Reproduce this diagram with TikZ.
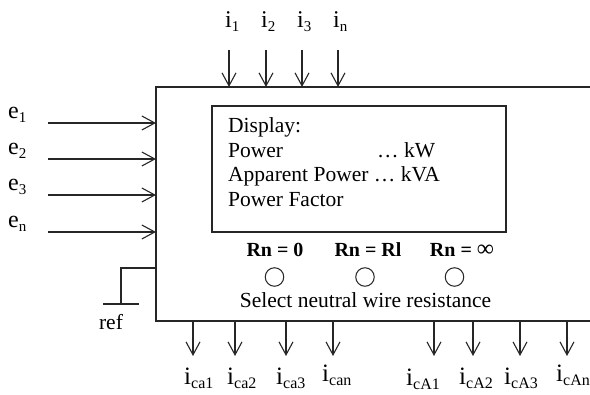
\documentclass[tikz,border=0pt]{standalone}
\usepackage{fontspec}
\setmainfont{Liberation Serif}
\usetikzlibrary{arrows.meta}

% subscript of a given size, lowered a little
\newcommand{\subtxt}[2]{\raisebox{-0.28ex}{\fontsize{#1}{#1}\selectfont #2}}

\begin{document}
\begin{tikzpicture}[x=1pt, y=-1pt,
    boxline/.style={line width=1.8pt, black!85},
    sig/.style={-{Straight Barb[length=13pt, width=14pt]}, line width=1.1pt, black!85},
    lblside/.style={inner sep=0pt, anchor=base west, font=\fontsize{24}{24}\selectfont},
    lblbot/.style={inner sep=0pt, anchor=base west, font=\fontsize{25}{25}\selectfont},
    disptxt/.style={inner sep=0pt, anchor=base west, font=\fontsize{21.5}{24}\selectfont},
    rnlbl/.style={inner sep=0pt, anchor=base, font=\fontsize{20}{20}\selectfont\bfseries},
    knob/.style={circle, draw, line width=1pt, black!85, minimum size=18.5pt, inner sep=0pt}]

  \useasboundingbox (0,0) rectangle (590,395);

  % ---- the meter box, open on the right ----
  \coordinate (boxNE) at (590,87);
  \coordinate (boxNW) at (156,87);
  \coordinate (boxSW) at (156,321);
  \coordinate (boxSE) at (590,321);
  \draw[boxline] (boxNE) -- (boxNW) -- (boxSW) -- (boxSE);

  % ---- display window ----
  \node[draw, line width=1.3pt, black!85, minimum width=294pt,
        minimum height=126pt, inner sep=0pt] (disp) at (359,169) {};
  \node[disptxt] (dispTitle) at (228,133) {Display:};
  \node[disptxt] (dispPow) at (228,158) {Power};
  \node[disptxt] (dispKW) at (377,158) {\ldots{} kW};
  \node[disptxt] (dispApp) at (228,182) {Apparent Power \ldots{} kVA};
  \node[disptxt] (dispPF) at (228,207) {Power Factor};

  % ---- voltage inputs on the left ----
  \node[lblside] (e1) at (8,119) {e\subtxt{15}{1}};
  \node[lblside] (e2) at (8,155) {e\subtxt{15}{2}};
  \node[lblside] (e3) at (8,191) {e\subtxt{15}{3}};
  \node[lblside] (en) at (8,228) {e\subtxt{15}{n}};
  \coordinate (e1s) at (48,123);  \coordinate (e1t) at (156,123);
  \coordinate (e2s) at (48,159);  \coordinate (e2t) at (156,159);
  \coordinate (e3s) at (48,195);  \coordinate (e3t) at (156,195);
  \coordinate (ens) at (48,232);  \coordinate (ent) at (156,232);
  \draw[sig] (e1s) -- (e1t);
  \draw[sig] (e2s) -- (e2t);
  \draw[sig] (e3s) -- (e3t);
  \draw[sig] (ens) -- (ent);

  % ---- current inputs on top ----
  \node[lblside] (i1) at (225,28) {i\subtxt{15}{1}};
  \node[lblside] (i2) at (261,28) {i\subtxt{15}{2}};
  \node[lblside] (i3) at (297,28) {i\subtxt{15}{3}};
  \node[lblside] (in) at (333,28) {i\subtxt{15}{n}};
  \coordinate (i1s) at (229,50);  \coordinate (i1t) at (229,87);
  \coordinate (i2s) at (266,50);  \coordinate (i2t) at (266,87);
  \coordinate (i3s) at (302,50);  \coordinate (i3t) at (302,87);
  \coordinate (ins) at (338,50);  \coordinate (int) at (338,87);
  \draw[sig] (i1s) -- (i1t);
  \draw[sig] (i2s) -- (i2t);
  \draw[sig] (i3s) -- (i3t);
  \draw[sig] (ins) -- (int);

  % ---- reference ground ----
  \coordinate (gndA) at (156,268);
  \coordinate (gndB) at (121,268);
  \coordinate (gndC) at (121,304);
  \coordinate (gndL) at (103,304);
  \coordinate (gndR) at (139,304);
  \draw[line width=1.1pt, black!85] (gndA) -- (gndB) -- (gndC);
  \draw[line width=1.1pt, black!85] (gndL) -- (gndR);
  \node[disptxt, anchor=base] (ref) at (111,330) {ref};

  % ---- neutral wire resistance selector ----
  \node[rnlbl] (rn0) at (275,257) {Rn = 0};
  \node[rnlbl] (rnl) at (368,257) {Rn = Rl};
  \node[rnlbl] (rninf) at (462,257) {Rn = {\mdseries\fontsize{24}{24}\selectfont ∞}};
  \node[knob] (k0) at (274.5,277) {};
  \node[knob] (kl) at (365,277) {};
  \node[knob] (kinf) at (454.5,277) {};
  \node[disptxt, anchor=base] (sel) at (365.5,308)
      {Select neutral wire resistance};

  % ---- compensating currents at the bottom ----
  \coordinate (a1s) at (193,321);  \coordinate (a1t) at (193,356);
  \coordinate (a2s) at (235,321);  \coordinate (a2t) at (235,356);
  \coordinate (a3s) at (286,321);  \coordinate (a3t) at (286,356);
  \coordinate (ans) at (333,321);  \coordinate (ant) at (333,356);
  \coordinate (A1s) at (434,321);  \coordinate (A1t) at (434,356);
  \coordinate (A2s) at (473,321);  \coordinate (A2t) at (473,356);
  \coordinate (A3s) at (520,321);  \coordinate (A3t) at (520,356);
  \coordinate (Ans) at (567,321);  \coordinate (Ant) at (567,356);
  \draw[sig] (a1s) -- (a1t);
  \draw[sig] (a2s) -- (a2t);
  \draw[sig] (a3s) -- (a3t);
  \draw[sig] (ans) -- (ant);
  \draw[sig] (A1s) -- (A1t);
  \draw[sig] (A2s) -- (A2t);
  \draw[sig] (A3s) -- (A3t);
  \draw[sig] (Ans) -- (Ant);
  \node[lblbot] (ica1) at (184,385) {i\subtxt{16}{ca1}};
  \node[lblbot] (ica2) at (227,385) {i\subtxt{16}{ca2}};
  \node[lblbot] (ica3) at (276,385) {i\subtxt{16}{ca3}};
  \node[lblbot] (ican) at (322,382) {i\subtxt{16}{can}};
  \node[lblbot] (icA1) at (406,386) {i\subtxt{16}{cA1}};
  \node[lblbot] (icA2) at (459,385) {i\subtxt{16}{cA2}};
  \node[lblbot] (icA3) at (504,385) {i\subtxt{16}{cA3}};
  \node[lblbot] (icAn) at (556,382) {i\subtxt{16}{cAn}};

\end{tikzpicture}
\end{document}
